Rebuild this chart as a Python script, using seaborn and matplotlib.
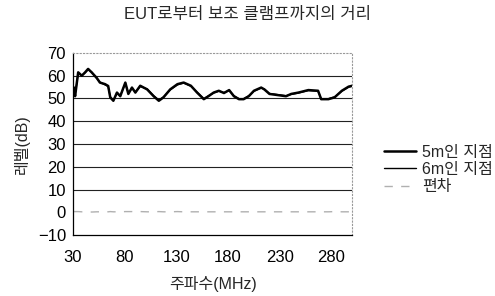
import numpy as np
import pandas as pd
import matplotlib
matplotlib.use('Agg')
import matplotlib.pyplot as plt
import seaborn as sns

sns.set_style('white')
plt.rcParams['font.family'] = ['Liberation Sans', 'Noto Sans CJK KR', 'DejaVu Sans']
plt.rcParams['axes.unicode_minus'] = False

# frequency (MHz) and levels (dB)
freq = [31, 32, 35, 38.5, 41.7, 44.6, 48, 53, 56, 61, 64, 66, 69, 72.5, 75.7,
        80.6, 83.5, 87, 90.3, 95, 101.7, 108, 113, 117.5, 124, 131, 137, 144,
        150, 156.5, 161, 166, 171, 176, 181, 185.6, 190.5, 195, 200, 205, 212,
        215, 220, 228, 236, 241, 248, 257.6, 267, 270, 277, 283, 290, 296.5, 300]
level_5m = [54.8, 51, 61.5, 60, 61.5, 63, 61.5, 59, 57, 56.3, 55.5, 50.5, 49,
            52.6, 51, 57, 52, 54.8, 52.6, 55.6, 54, 51, 49, 50.5, 54, 56.3, 57,
            55.6, 52.6, 49.7, 51, 52.6, 53.4, 52.4, 53.7, 51, 49.7, 49.7, 51,
            53.4, 54.8, 54, 52, 51.5, 51, 52, 52.6, 53.7, 53.4, 49.7, 49.7,
            50.5, 53.4, 55.2, 55.6]
level_6m = [54.5, 51.3, 61.2, 60.2, 61.3, 62.7, 61.6, 58.8, 57.2, 56.0, 55.3,
            50.8, 49.2, 52.4, 51.2, 56.7, 52.3, 54.5, 52.8, 55.3, 54.2, 51.2,
            49.3, 50.7, 53.8, 56.0, 56.8, 55.4, 52.8, 49.9, 51.2, 52.4, 53.2,
            52.6, 53.5, 51.2, 49.9, 49.9, 51.2, 53.2, 54.6, 54.2, 52.2, 51.7,
            51.2, 51.8, 52.4, 53.5, 53.2, 49.9, 49.9, 50.7, 53.2, 55.0, 55.4]
deviation = [0.3, 0.3, 0.3, 0.2, 0.2, 0.3, 0.1, 0.2, 0.2, 0.3, 0.2, 0.3, 0.2,
             0.2, 0.2, 0.3, 0.3, 0.3, 0.2, 0.3, 0.2, 0.2, 0.3, 0.2, 0.2, 0.3,
             0.2, 0.2, 0.2, 0.2, 0.2, 0.2, 0.2, 0.2, 0.2, 0.2, 0.2, 0.2, 0.2,
             0.2, 0.2, 0.2, 0.2, 0.2, 0.2, 0.2, 0.2, 0.2, 0.2, 0.2, 0.2, 0.3,
             0.2, 0.2, 0.2]

df = pd.DataFrame({'freq': freq, '5m': level_5m, '6m': level_6m, 'dev': deviation})

fig = plt.figure(figsize=(4.95, 2.96), dpi=100)
ax = fig.add_axes([0.1475, 0.206, 0.564, 0.615])

for y in range(10, 70, 10):
    ax.axhline(y, color='#222222', lw=0.8, zorder=1)

sns.lineplot(data=df, x='freq', y='dev', ax=ax, color='#b0b0b0', lw=1.0,
             label='편차', legend=False, zorder=2)
sns.lineplot(data=df, x='freq', y='6m', ax=ax, color='black', lw=1.0,
             label='6m인 지점', legend=False, zorder=3)
sns.lineplot(data=df, x='freq', y='5m', ax=ax, color='black', lw=1.8,
             label='5m인 지점', legend=False, zorder=4)
ax.lines[-3].set_linestyle((0, (6, 6)))

ax.set_xlim(30, 300)
ax.set_ylim(-10, 70)
ax.set_xticks([30, 80, 130, 180, 230, 280])
ax.set_yticks(range(-10, 80, 10))
ax.set_yticklabels(['−10'] + [str(v) for v in range(0, 80, 10)])
ax.tick_params(axis='both', labelsize=12, length=0, pad=5, colors='black')
ax.tick_params(axis='x', pad=11)

for side in ['top', 'right']:
    ax.spines[side].set_linestyle((0, (1, 2)))
    ax.spines[side].set_color('#999999')
    ax.spines[side].set_linewidth(0.8)
for side in ['left', 'bottom']:
    ax.spines[side].set_color('black')
    ax.spines[side].set_linewidth(0.9)

ax.set_xlabel('주파수(MHz)', fontsize=11.5, labelpad=8)
ax.set_ylabel('레벨(dB)', fontsize=11.5, labelpad=6)
fig.suptitle('EUT로부터 보조 클램프까지의 거리', fontsize=12, x=0.5, y=0.975)

handles, labels = ax.get_legend_handles_labels()
order = [labels.index(l) for l in ['5m인 지점', '6m인 지점', '편차']]
leg = ax.legend([handles[i] for i in order], [labels[i] for i in order],
                loc='center left', bbox_to_anchor=(1.09, 0.36), frameon=False,
                fontsize=11.5, handlelength=2.0, handletextpad=0.4,
                labelspacing=0.15, borderaxespad=0)

plt.savefig('out.png', dpi=100)
